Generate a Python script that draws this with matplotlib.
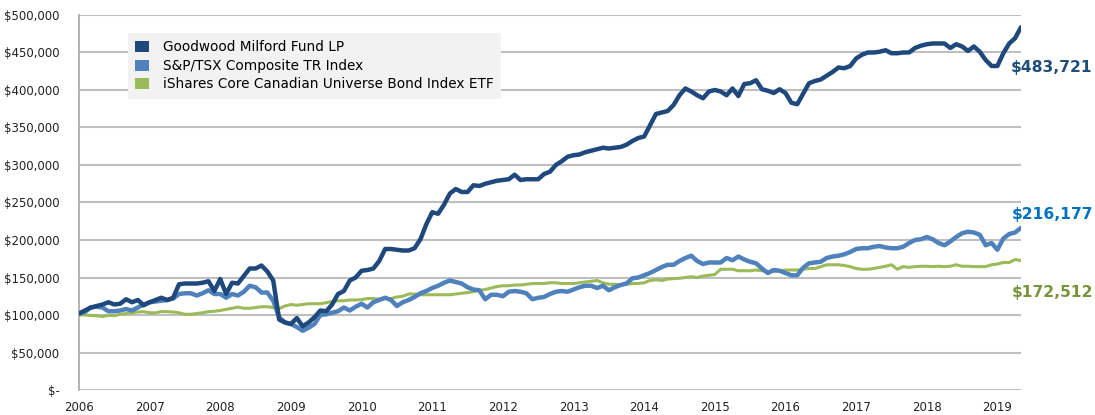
import numpy as np
import matplotlib.pyplot as plt
from matplotlib.ticker import FuncFormatter
from matplotlib.patches import Patch
from matplotlib.transforms import blended_transform_factory

# growth of $100,000, monthly values in $ thousands, Jan 2006 - May 2019
goodwood = [102, 106, 110, 112, 114, 117, 114, 115, 121, 117, 120, 113,
            117, 120, 123, 120, 123, 141, 142, 142, 142, 143, 145, 132,
            148, 128, 143, 142, 152, 162, 162, 166, 158, 146, 94, 90,
            88, 96, 85, 90, 97, 106, 105, 114, 128, 132, 146, 150,
            159, 160, 162, 172, 188, 188, 187, 186, 186, 189, 201, 221,
            237, 235, 247, 262, 268, 264, 264, 273, 272, 275, 277, 279,
            280, 281, 287, 280, 281, 281, 281, 288, 291, 300, 305, 311,
            313, 314, 317, 319, 321, 323, 322, 323, 324, 327, 332, 336,
            338, 353, 368, 370, 372, 380, 393, 402, 398, 393, 389, 398,
            400, 398, 393, 402, 392, 408, 409, 413, 401, 399, 396, 401,
            396, 383, 381, 395, 409, 412, 414, 419, 424, 430, 429, 432,
            442, 447, 450, 450, 451, 453, 449, 449, 450, 450, 456, 459,
            461, 462, 462, 462, 456, 461, 458, 452, 458, 451, 440, 432,
            432, 449, 462, 469, 483.721]

tsx = [102, 104, 110, 111, 110, 105, 105, 106, 108, 106, 110, 114,
       117, 118, 119, 120, 122, 128, 129, 129, 126, 129, 133, 128,
       128, 123, 128, 126, 131, 139, 137, 130, 130, 119, 97, 90,
       88, 84, 79, 83, 88, 100, 101, 103, 105, 110, 106, 111,
       115, 110, 117, 120, 123, 120, 112, 117, 120, 124, 129, 132,
       136, 139, 143, 146, 144, 142, 137, 134, 133, 121, 127, 127,
       125, 131, 132, 131, 129, 121, 123, 124, 128, 131, 132, 131,
       134, 137, 139, 139, 136, 139, 133, 137, 140, 142, 149, 150,
       153, 156, 160, 164, 167, 167, 172, 176, 179, 172, 168, 170,
       170, 170, 176, 173, 178, 174, 171, 169, 162, 156, 160, 159,
       156, 153, 153, 163, 169, 170, 171, 176, 178, 179, 181, 184,
       188, 189, 189, 191, 192, 190, 189, 189, 191, 196, 200, 201,
       204, 201, 196, 193, 198, 204, 209, 211, 210, 207, 193, 196,
       187, 202, 208, 210, 216.177]

bonds = [100, 100, 99.5, 99, 98, 99.5, 99, 101, 102, 103, 104, 104.5,
         103, 103, 104.5, 104.5, 104, 103, 101, 101, 102, 103, 104.5, 105,
         106, 107.5, 109, 110.5, 109, 109, 110, 111, 111, 110, 108.5, 112,
         114, 113, 114, 115, 115, 115, 116.5, 118, 119, 119, 120, 120,
         120.5, 122, 122, 121, 122, 122, 124, 125, 128, 128, 127, 127,
         127, 127, 127, 127, 128, 129, 130, 131, 133, 134, 136, 138,
         139, 139, 140, 140, 141, 142, 142, 142, 143, 143, 142, 142,
         142, 143, 144, 145, 146, 143, 141, 141, 140, 141, 142, 142,
         143, 146, 147, 146, 148, 148.5, 149, 150, 151, 150, 152, 153,
         154, 161, 161, 161, 159, 159, 159, 160, 159, 158, 158, 159,
         160, 160, 160, 161, 162, 162, 164.5, 167, 167, 167, 166, 164.5,
         162, 161, 161, 162, 163.5, 165, 167, 161, 164.5, 163.5, 164.5, 165,
         165, 164.5, 165, 164.5, 165, 167, 165, 165, 164.5, 164.5, 164.5, 167,
         168, 170, 170, 174, 172.512]

names = ['Goodwood Milford Fund LP', 'S&P/TSX Composite TR Index',
         'iShares Core Canadian Universe Bond Index ETF']
end_labels = ['$483,721', '$216,177', '$172,512']
year_ticks = list(range(2006, 2020))

c_gw = '#1F497D'
c_tsx = '#4F81BD'
c_bond = '#9BBB59'

x = 2006 + np.arange(len(goodwood)) / 12.0

fig = plt.figure(figsize=(10.95, 4.15), dpi=100)
ax = fig.add_axes([0.0721, 0.0602, 0.8603, 0.9037])

ax.plot(x, np.array(bonds) * 1000, color=c_bond, lw=2.2, solid_capstyle='round', zorder=3)
ax.plot(x, np.array(tsx) * 1000, color=c_tsx, lw=3.2, solid_capstyle='round', zorder=4)
ax.plot(x, np.array(goodwood) * 1000, color=c_gw, lw=3.2, solid_capstyle='round', zorder=5)

ax.set_xlim(x[0], x[-1])
ax.set_ylim(0, 500000)
ax.set_yticks(range(0, 500001, 50000))
ax.yaxis.set_major_formatter(FuncFormatter(lambda v, p: '$-' if v == 0 else '${:,.0f}'.format(v)))
ax.set_xticks(year_ticks)
ax.set_xticklabels([str(y) for y in year_ticks])

ax.grid(axis='y', color='#BFBFBF', lw=1.5, zorder=0)
for s in ['top', 'right', 'bottom']:
    ax.spines[s].set_visible(False)
ax.spines['left'].set_color('#A6A6A6')
ax.spines['left'].set_linewidth(1.2)
ax.tick_params(length=0, labelsize=8.5, colors='#222222')
ax.tick_params(axis='y', pad=14)
ax.tick_params(axis='x', pad=8)

# end-value labels, right-aligned near the figure edge
trans = blended_transform_factory(fig.transFigure, ax.transAxes)
label_y = [0.859, 0.467, 0.261]
label_c = ['#1F4E79', '#0070C0', '#77933C']
for txt, yy, cc in zip(end_labels, label_y, label_c):
    ax.text(0.998, yy, txt, transform=trans, color=cc, fontsize=11.2,
            fontweight='bold', va='center', ha='right')

handles = [Patch(facecolor=c, edgecolor='none') for c in (c_gw, c_tsx, c_bond)]
leg = ax.legend(handles, names, loc='upper left', bbox_to_anchor=(0.052, 0.952),
                frameon=True, fancybox=False, fontsize=9.8, handlelength=1.0,
                handleheight=0.9, handletextpad=1.0, labelspacing=0.33,
                borderpad=0.55, borderaxespad=0)
leg.get_frame().set_facecolor('#F2F2F2')
leg.get_frame().set_edgecolor('none')
leg.get_frame().set_alpha(1)

fig.savefig('out.png', dpi=100)
